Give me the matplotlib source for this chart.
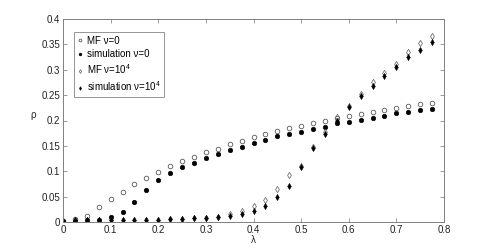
import matplotlib
matplotlib.use("Agg")
import matplotlib.pyplot as plt
import numpy as np

plt.rcParams['font.family'] = ['Liberation Sans', 'DejaVu Sans']
plt.rcParams['mathtext.fontset'] = 'custom'
plt.rcParams['mathtext.rm'] = 'Liberation Sans'

lam = [0, 0.025, 0.05, 0.075, 0.1, 0.125, 0.15, 0.175, 0.2, 0.225, 0.25, 0.275,
       0.3, 0.325, 0.35, 0.375, 0.4, 0.425, 0.45, 0.475, 0.5, 0.525, 0.55, 0.575,
       0.6, 0.625, 0.65, 0.675, 0.7, 0.725, 0.75, 0.775]

mf_v0 = [0.002, 0.0065, 0.011, 0.0296, 0.045, 0.060, 0.074, 0.0867, 0.098, 0.110,
         0.1195, 0.1287, 0.137, 0.1445, 0.153, 0.1596, 0.1668, 0.1727, 0.1786, 0.1845,
         0.1898, 0.1944, 0.1995, 0.2045, 0.2089, 0.2128, 0.2167, 0.2207, 0.2246, 0.228,
         0.2318, 0.2345]

sim_v0 = [0.002, 0.002, 0.003, 0.004, 0.009, 0.020, 0.040, 0.0637, 0.0828, 0.097,
          0.109, 0.117, 0.1268, 0.134, 0.1425, 0.1478, 0.155, 0.1616, 0.170, 0.1734,
          0.178, 0.1828, 0.1878, 0.1944, 0.1977, 0.201, 0.2056, 0.2095, 0.214, 0.216,
          0.2207, 0.222]

mf_v1e4 = [0.002, 0.003, 0.004, 0.004, 0.004, 0.004, 0.004, 0.004, 0.004, 0.005,
           0.006, 0.007, 0.008, 0.0095, 0.0160, 0.022, 0.0313, 0.043, 0.0644, 0.0935,
           0.111, 0.148, 0.177, 0.2075, 0.229, 0.252, 0.2765, 0.294, 0.3107, 0.3343,
           0.3533, 0.367]

sim_v1e4 = [0.002, 0.003, 0.003, 0.003, 0.003, 0.003, 0.003, 0.003, 0.004, 0.005,
            0.006, 0.007, 0.0079, 0.009, 0.0122, 0.015, 0.0217, 0.0315, 0.0484, 0.070,
            0.1085, 0.145, 0.1737, 0.1997, 0.2265, 0.249, 0.268, 0.2877, 0.306, 0.3245,
            0.339, 0.3547]

xticks = [0, 0.1, 0.2, 0.3, 0.4, 0.5, 0.6, 0.7, 0.8]
xticklabels = ['0', '0.1', '0.2', '0.3', '0.4', '0.5', '0.6', '0.7', '0.8']
yticks = [0, 0.05, 0.1, 0.15, 0.2, 0.25, 0.3, 0.35, 0.4]
yticklabels = ['0', '0.05', '0.1', '0.15', '0.2', '0.25', '0.3', '0.35', '0.4']

fig = plt.figure(figsize=(4.91, 2.5), dpi=100)
ax = fig.add_axes([63/491, 1 - 222/250, (444 - 63)/491, (222 - 19)/250])

gray = '0.35'
ax.plot(lam, mf_v0, linestyle='none', marker='o', markersize=3.3,
        markerfacecolor='none', markeredgecolor=gray, markeredgewidth=0.6,
        label='MF ν=0')
ax.plot(lam, sim_v0, linestyle='none', marker='o', markersize=3.3,
        markerfacecolor='black', markeredgecolor='black', markeredgewidth=0.4,
        label='simulation ν=0')
ax.plot(lam, mf_v1e4, linestyle='none', marker='d', markersize=3.2,
        markerfacecolor='none', markeredgecolor=gray, markeredgewidth=0.5,
        label='MF ν=10$^4$')
ax.plot(lam, sim_v1e4, linestyle='none', marker='d', markersize=3.2,
        markerfacecolor='black', markeredgecolor='black', markeredgewidth=0.3,
        label='simulation ν=10$^4$')

ax.set_xlim(0, 0.8)
ax.set_ylim(0, 0.4)
ax.set_xticks(xticks)
ax.set_xticklabels(xticklabels)
ax.set_yticks(yticks)
ax.set_yticklabels(yticklabels)
ax.tick_params(direction='in', length=3, width=0.5, colors='0.45',
               labelcolor='#222222', labelsize=7, top=True, right=True, pad=2)
for s in ax.spines.values():
    s.set_color('0.5')
    s.set_linewidth(0.7)

ax.set_xlabel('λ', fontsize=7, labelpad=0, color='#222222')
ax.set_ylabel('ρ', fontsize=7, rotation=0, labelpad=6, color='#222222')

leg = ax.legend(loc='upper left', bbox_to_anchor=(0.028, 0.935), fontsize=7,
                frameon=True, fancybox=False, edgecolor='0.4', markerscale=0.6,
                handlelength=0.6, handletextpad=0.4, borderpad=0.35,
                labelspacing=0.35, borderaxespad=0)
leg.get_frame().set_linewidth(0.6)

fig.savefig('out.png', dpi=100)
